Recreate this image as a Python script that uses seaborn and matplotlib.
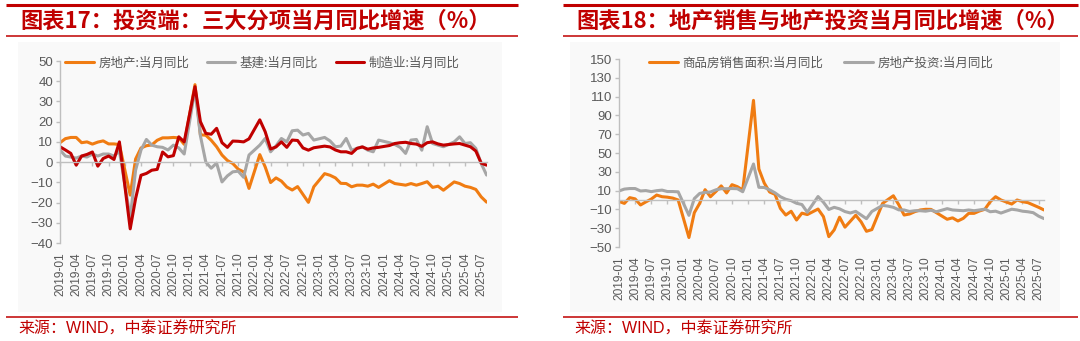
import numpy as np
import pandas as pd
import matplotlib
matplotlib.use("Agg")
import matplotlib.pyplot as plt
from matplotlib.lines import Line2D
from matplotlib.patches import Rectangle
import seaborn as sns

# ---------------- data ----------------
months = pd.date_range("2019-01-01", "2025-08-01", freq="MS").strftime("%Y-%m").tolist()
tick_labels = months[::3]

N = None
# 房地产投资:当月同比 (%)
re_inv = [9.6, 11.6, 12.2, 12.2, 9.6, 10.0, 8.9, 9.9, 10.5, 9.0, 9.0, 8.7,
          N, -16.3, 1.5, 7.0, 8.1, 8.5, 10.8, 12.0, 12.0, 12.2, 12.0, 8.8,
          N, 38.3, 13.5, 13.3, 10.8, 7.6, 3.5, 0.8, -0.7, -3.5, -4.8, -13.0,
          N, 3.7, -2.4, -10.1, -7.8, -9.4, -12.3, -13.8, -12.1, -16.0, -19.9, -12.2,
          N, -5.7, -6.5, -7.8, -10.5, -10.6, -12.2, -11.4, -11.4, -11.9, -10.9, -12.5,
          N, -9.2, -10.6, -11.0, -11.4, -10.6, -11.4, -10.6, -9.7, -12.5, -11.9, -13.9,
          N, -9.8, -10.6, -11.9, -12.5, -13.5, -17.2, -19.8]
# 基建:当月同比 (%)
infra = [6.0, 3.0, 2.5, 2.0, 3.0, 2.5, 4.0, 3.0, 4.0, 4.0, 3.0, 5.5,
         N, -27.5, -4.0, 6.0, 11.2, 8.4, 7.6, 7.3, 6.0, 8.4, 7.0, 4.0,
         N, 36.0, 13.0, 0.0, -3.0, -0.5, -9.8, -6.8, -4.8, -4.5, -7.5, 3.5,
         N, 8.4, 11.7, 5.1, 8.0, 11.7, 10.0, 15.5, 15.8, 13.4, 14.2, 10.9,
         N, 12.2, 10.5, 7.6, 7.9, 11.7, 5.9, 6.8, 7.6, 5.9, 5.1, 10.9,
         N, 9.6, 8.7, 7.3, 4.3, 10.9, 11.2, 5.9, 17.5, 9.2, 8.4, 7.6,
         N, 10.0, 12.5, 9.2, 9.6, 6.8, -0.7, -6.4]
# 制造业:当月同比 (%)
manu = [7.6, 6.0, 4.3, -1.5, 3.0, 3.8, 5.0, -2.0, 1.8, 3.0, 1.3, 10.0,
        N, -33.0, -18.0, -6.5, -5.6, -4.0, -3.6, 5.0, 2.6, 3.2, 12.5, 10.0,
        N, 37.3, 20.0, 14.2, 13.8, 16.7, 9.6, 7.3, 10.4, 10.3, 10.0, 11.5,
        N, 20.9, 15.0, 6.5, 7.5, 10.0, 7.3, 10.9, 10.7, 7.0, 5.9, 7.1,
        N, 7.9, 7.5, 6.0, 5.1, 5.1, 4.3, 6.8, 7.5, 6.4, 7.0, 7.3,
        N, 8.2, 9.2, 9.6, 9.8, 9.2, 8.9, 7.8, 9.6, 10.0, 9.0, 8.4,
        N, 9.0, 9.2, 8.4, 7.6, 5.5, -0.5, -1.5]
# 商品房销售面积:当月同比 (%)
sales = [-1.5, -3.6, 2.5, 1.2, -5.3, -2.0, 1.0, 5.3, 3.5, 3.0, 2.0, 0.0,
         N, -39.9, -13.5, -3.5, 11.0, 3.5, 9.0, 15.0, 7.5, 16.3, 14.2, 10.6,
         N, 106.0, 33.0, 18.0, 8.5, 6.0, -9.0, -16.0, -12.0, -21.3, -14.0, -15.5,
         N, -9.6, -17.7, -39.0, -31.8, -18.3, -28.9, -22.6, -16.2, -23.2, -33.3, -31.5,
         N, -3.6, 0.5, 4.5, -5.0, -16.0, -14.9, -12.4, -10.6, -9.9, -10.0, -13.5,
         N, -20.5, -19.0, -22.3, -19.5, -14.2, -14.2, -11.7, -9.9, -1.8, 3.5, 0.0,
         N, -4.3, 0.0, -1.8, -2.8, -5.3, -7.8, -10.6]

left_series = [("房地产:当月同比", re_inv, "#F07C12"),
               ("基建:当月同比", infra, "#A6A6A6"),
               ("制造业:当月同比", manu, "#C00000")]
right_series = [("商品房销售面积:当月同比", sales, "#F07C12"),
                ("房地产投资:当月同比", re_inv, "#A6A6A6")]

# ---------------- style ----------------
sns.set_theme(style="white")
plt.rcParams["font.family"] = ["Liberation Sans", "Noto Sans CJK SC", "DejaVu Sans"]

W, H = 1080, 341
fig = plt.figure(figsize=(W / 100, H / 100), dpi=100)

RED = "#C00000"
TXT = "#595959"
AX = "#BFBFBF"
CJK = ["Noto Sans CJK SC", "DejaVu Sans"]


def fx(px):
    return px / W


def fy(py):
    return 1 - py / H


def hline(x0, x1, y, lw):
    fig.add_artist(Line2D([fx(x0), fx(x1)], [fy(y), fy(y)], transform=fig.transFigure,
                          color=RED, lw=lw, solid_capstyle="butt"))


def panel(x0, x1, title, tx, box, axrect, series, ylim, yticks, legx, legy, colsp):
    # background
    fig.patches.append(Rectangle((fx(box[0]), fy(box[3])), fx(box[2] - box[0]),
                                 (box[3] - box[1]) / H, transform=fig.transFigure,
                                 facecolor="#F9F9F9", edgecolor="none", zorder=-5))
    hline(x0, x1, 5, 2.2)
    hline(x0, x1, 36, 1.1)
    hline(x0, x1, 317, 1.1)
    fig.text(fx(tx), fy(21.5), title, color=RED, fontsize=16, fontweight="bold",
             family=CJK, va="center", ha="left")
    fig.text(fx(tx - 2), fy(329), "来源：WIND，中泰证券研究所", color=RED, fontsize=11.5,
             family=["Liberation Sans", "Noto Sans CJK SC"], va="center", ha="left")

    l, t, r, b = axrect
    ax = fig.add_axes([fx(l), fy(b), fx(r - l), (b - t) / H])
    ax.set_facecolor("none")
    ax.set_zorder(2)
    xs = np.arange(len(months))
    for name, vals, color in series:
        d = pd.DataFrame({"x": xs, "y": vals}).dropna()
        sns.lineplot(data=d, x="x", y="y", ax=ax, color=color, lw=2.2,
                     errorbar=None, legend=False)
    ax.set_xlim(0, len(months) - 1)
    ax.set_ylim(*ylim)
    ax.set_yticks(yticks)
    ax.set_xlabel("")
    ax.set_ylabel("")
    for s in ("top", "right"):
        ax.spines[s].set_visible(False)
    ax.spines["left"].set_color(AX)
    ax.spines["left"].set_linewidth(1.0)
    ax.spines["bottom"].set_position(("data", 0))
    ax.spines["bottom"].set_color(AX)
    ax.spines["bottom"].set_linewidth(1.0)
    ax.set_xticks(np.arange(0, len(months), 3))
    ax.tick_params(axis="x", length=3, width=1, color=AX, direction="out", labelbottom=False, bottom=True)
    ax.tick_params(axis="y", length=3, width=1, color=AX, direction="out", left=True,
                   labelsize=9.5, labelcolor=TXT, pad=2)
    ax.grid(False)

    sec = ax.secondary_xaxis("bottom")
    sec.set_xticks(np.arange(0, len(months), 3), labels=tick_labels, rotation=90)
    sec.tick_params(length=0, pad=7, labelsize=8.6, labelcolor=TXT)
    sec.spines["bottom"].set_visible(False)

    lines = ax.get_lines()[:len(series)]
    leg = ax.legend(lines, [s[0] for s in series], ncol=len(series), loc="center left",
                    bbox_to_anchor=(fx(legx), fy(legy)), bbox_transform=fig.transFigure,
                    frameon=False, borderpad=0, borderaxespad=0, handlelength=2.3,
                    handletextpad=0.35, columnspacing=colsp,
                    prop={"family": CJK, "size": 9})
    for t in leg.get_texts():
        t.set_color(TXT)
    return ax


panel(6, 518, "图表17：投资端：三大分项当月同比增速（%）", 20,
      (18, 42, 502, 312), (60, 61, 486.6, 243), left_series,
      (-40, 50), np.arange(-40, 51, 10), 65, 63, 1.4)
panel(563, 1078, "图表18：地产销售与地产投资当月同比增速（%）", 576,
      (570, 42, 1060, 312), (619, 59, 1044, 247), right_series,
      (-50, 150), np.arange(-50, 151, 20), 649, 63, 1.7)

fig.savefig("out.png", dpi=100)
